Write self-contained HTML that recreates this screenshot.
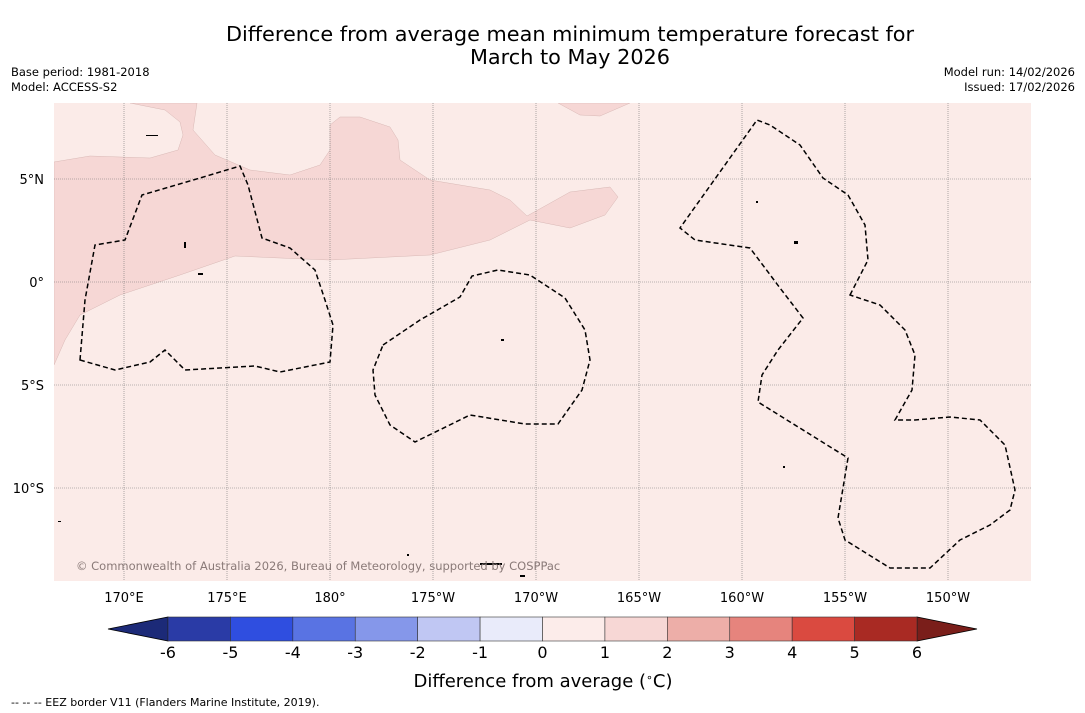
<!DOCTYPE html>
<html><head><meta charset="utf-8"><style>
body{margin:0;background:#fff;font-family:"Liberation Sans","DejaVu Sans",sans-serif;}
#c{position:relative;width:1085px;height:713px;overflow:hidden;}
</style></head><body>
<div id="c">
<svg width="1085" height="713" xmlns="http://www.w3.org/2000/svg" font-family="DejaVu Sans, Liberation Sans, sans-serif">
<text x="570" y="41" font-size="20.8" text-anchor="middle" fill="#000">Difference from average mean minimum temperature forecast for</text>
<text x="570" y="64" font-size="20.8" text-anchor="middle" fill="#000">March to May 2026</text>
<text x="11" y="76" font-size="11.5">Base period: 1981-2018</text>
<text x="11" y="91" font-size="11.5">Model: ACCESS-S2</text>
<text x="1075" y="76" font-size="11.5" text-anchor="end">Model run: 14/02/2026</text>
<text x="1075" y="91" font-size="11.5" text-anchor="end">Issued: 17/02/2026</text>
<g>
<clipPath id="mc"><rect x="54" y="103" width="977" height="478"/></clipPath>
<rect x="54" y="103" width="977" height="478" fill="#fbebe8"/>
<g clip-path="url(#mc)">
<path fill="#f6d7d5" stroke="#d8b8b5" stroke-width="0.5" d="M54,162 L90,156 L150,158 L178,150 L183,135 L180,122 L165,110 L130,103 L197,103 L193,130 L215,155 L250,170 L290,175 L320,165 L330,150 L330,125 L340,117 L360,117 L390,127 L398,140 L400,160 L430,180 L490,190 L510,200 L527,216 L545,206 L570,192 L610,187 L618,197 L605,215 L570,228 L530,220 L490,240 L430,255 L330,260 L280,258 L235,256 L180,275 L120,295 L80,315 L65,340 L54,365 Z"/>
<path fill="#f6d7d5" stroke="#d8b8b5" stroke-width="0.5" d="M558,103 L580,115 L600,116 L630,103 Z"/>
<g id="grid" stroke="#777" stroke-width="0.6" stroke-dasharray="1,1"></g>
<g fill="none" stroke="#000" stroke-width="1.5" stroke-dasharray="5,3">
<path d="M80,360 L85,300 L95,245 L125,240 L142,195 L200,178 L240,166 L248,185 L262,238 L290,248 L315,270 L325,300 L333,325 L330,362 L280,372 L255,366 L185,370 L165,350 L150,362 L115,370 Z"/>
<path d="M383,345 L420,320 L460,297 L472,276 L498,270 L530,275 L565,298 L585,330 L590,360 L582,390 L558,424 L525,424 L470,415 L415,442 L390,425 L375,395 L373,370 Z"/>
<path d="M850,295 L868,260 L865,225 L848,195 L823,178 L800,145 L770,125 L757,120 L680,228 L695,240 L750,248 L780,288 L803,318 L778,350 L762,375 L758,402 L848,458 L838,518 L845,540 L890,568 L930,568 L960,540 L990,525 L1010,510 L1015,490 L1005,445 L980,420 L950,417 L915,420 L895,420 L912,390 L915,355 L905,330 L880,305 Z"/>
</g>
<g fill="#000">
<rect x="146" y="135" width="12" height="1"/><rect x="184" y="242" width="2" height="6"/><rect x="198" y="273" width="5" height="2"/><rect x="501" y="339" width="3" height="2"/><rect x="480" y="563" width="22" height="2"/><rect x="756" y="201" width="2" height="2"/><rect x="794" y="241" width="4" height="3"/><rect x="783" y="466" width="2" height="2"/><rect x="58" y="521" width="3" height="1"/><rect x="407" y="554" width="2" height="2"/><rect x="520" y="575" width="5" height="2"/>
</g>
</g>
<text x="76" y="570" font-size="11.5" fill="#8a7a78">© Commonwealth of Australia 2026, Bureau of Meteorology, supported by COSPPac</text>
<g id="axes" font-size="13"></g>
</g>
<g id="cbar"></g>
<text x="543" y="687" font-size="18" text-anchor="middle">Difference from average (<tspan font-size="11" dy="-6">∘</tspan><tspan dy="6">C)</tspan></text>
<text x="11" y="706" font-size="11">--  --  -- EEZ border V11 (Flanders Marine Institute, 2019).</text>
</svg>
</div>
<script>
const lonTicks=[170,175,180,185,190,195,200,205,210];
const lonLabels=["170°E","175°E","180°","175°W","170°W","165°W","160°W","155°W","150°W"];
const latTicks=[5,0,-5,-10];
const latLabels=["5°N","0°","5°S","10°S"];
const cbLevels=[-6,-5,-4,-3,-2,-1,0,1,2,3,4,5,6];
const cbColors=["#2a3ba6","#2f4ee0","#5973e3","#8597ea","#c0c7f3","#e9ebfa","#fcecea","#f7d7d5","#edaea8","#e6847d","#da4a40","#a92a23"];
const NS="http://www.w3.org/2000/svg";
const xOf=lon=>124+(lon-170)*20.6;
const yOf=lat=>282-lat*20.6;
function mk(t,a,p){const e=document.createElementNS(NS,t);for(const k in a)e.setAttribute(k,a[k]);p.appendChild(e);return e;}
const grid=document.getElementById('grid'),axes=document.getElementById('axes');
lonTicks.forEach((l,i)=>{const x=xOf(l);
const g=mk('line',{x1:x,x2:x,y1:103,y2:581},grid);


const t=mk('text',{x:x,y:602,'text-anchor':'middle'},axes);t.textContent=lonLabels[i];

});
latTicks.forEach((l,i)=>{const y=yOf(l);
const g=mk('line',{x1:54,x2:1031,y1:y,y2:y},grid);


const t=mk('text',{x:44,y:y+5,'text-anchor':'end'},axes);t.textContent=latLabels[i];

});
const cb=document.getElementById('cbar');
const x0=168,x1=917,y0=617,h=24,w=(x1-x0)/cbColors.length;
const lo=mk('polygon',{points:`${x0},${y0} ${x0},${y0+h} 108,${y0+h/2}`,fill:"#1c2a78",stroke:"#000","stroke-width":0.8},cb);


const hi=mk('polygon',{points:`${x1},${y0} ${x1},${y0+h} 977,${y0+h/2}`,fill:"#7a1e1a",stroke:"#000","stroke-width":0.8},cb);


cbColors.forEach((c,i)=>{const r=mk('rect',{x:x0+i*w,y:y0,width:w,height:h,fill:c,stroke:"#333","stroke-width":0.6},cb);

});
cbLevels.forEach((v,i)=>{const t=mk('text',{x:x0+i*w,y:658,'text-anchor':'middle','font-size':16},cb);t.textContent=v;

});
</script>
</body></html>
